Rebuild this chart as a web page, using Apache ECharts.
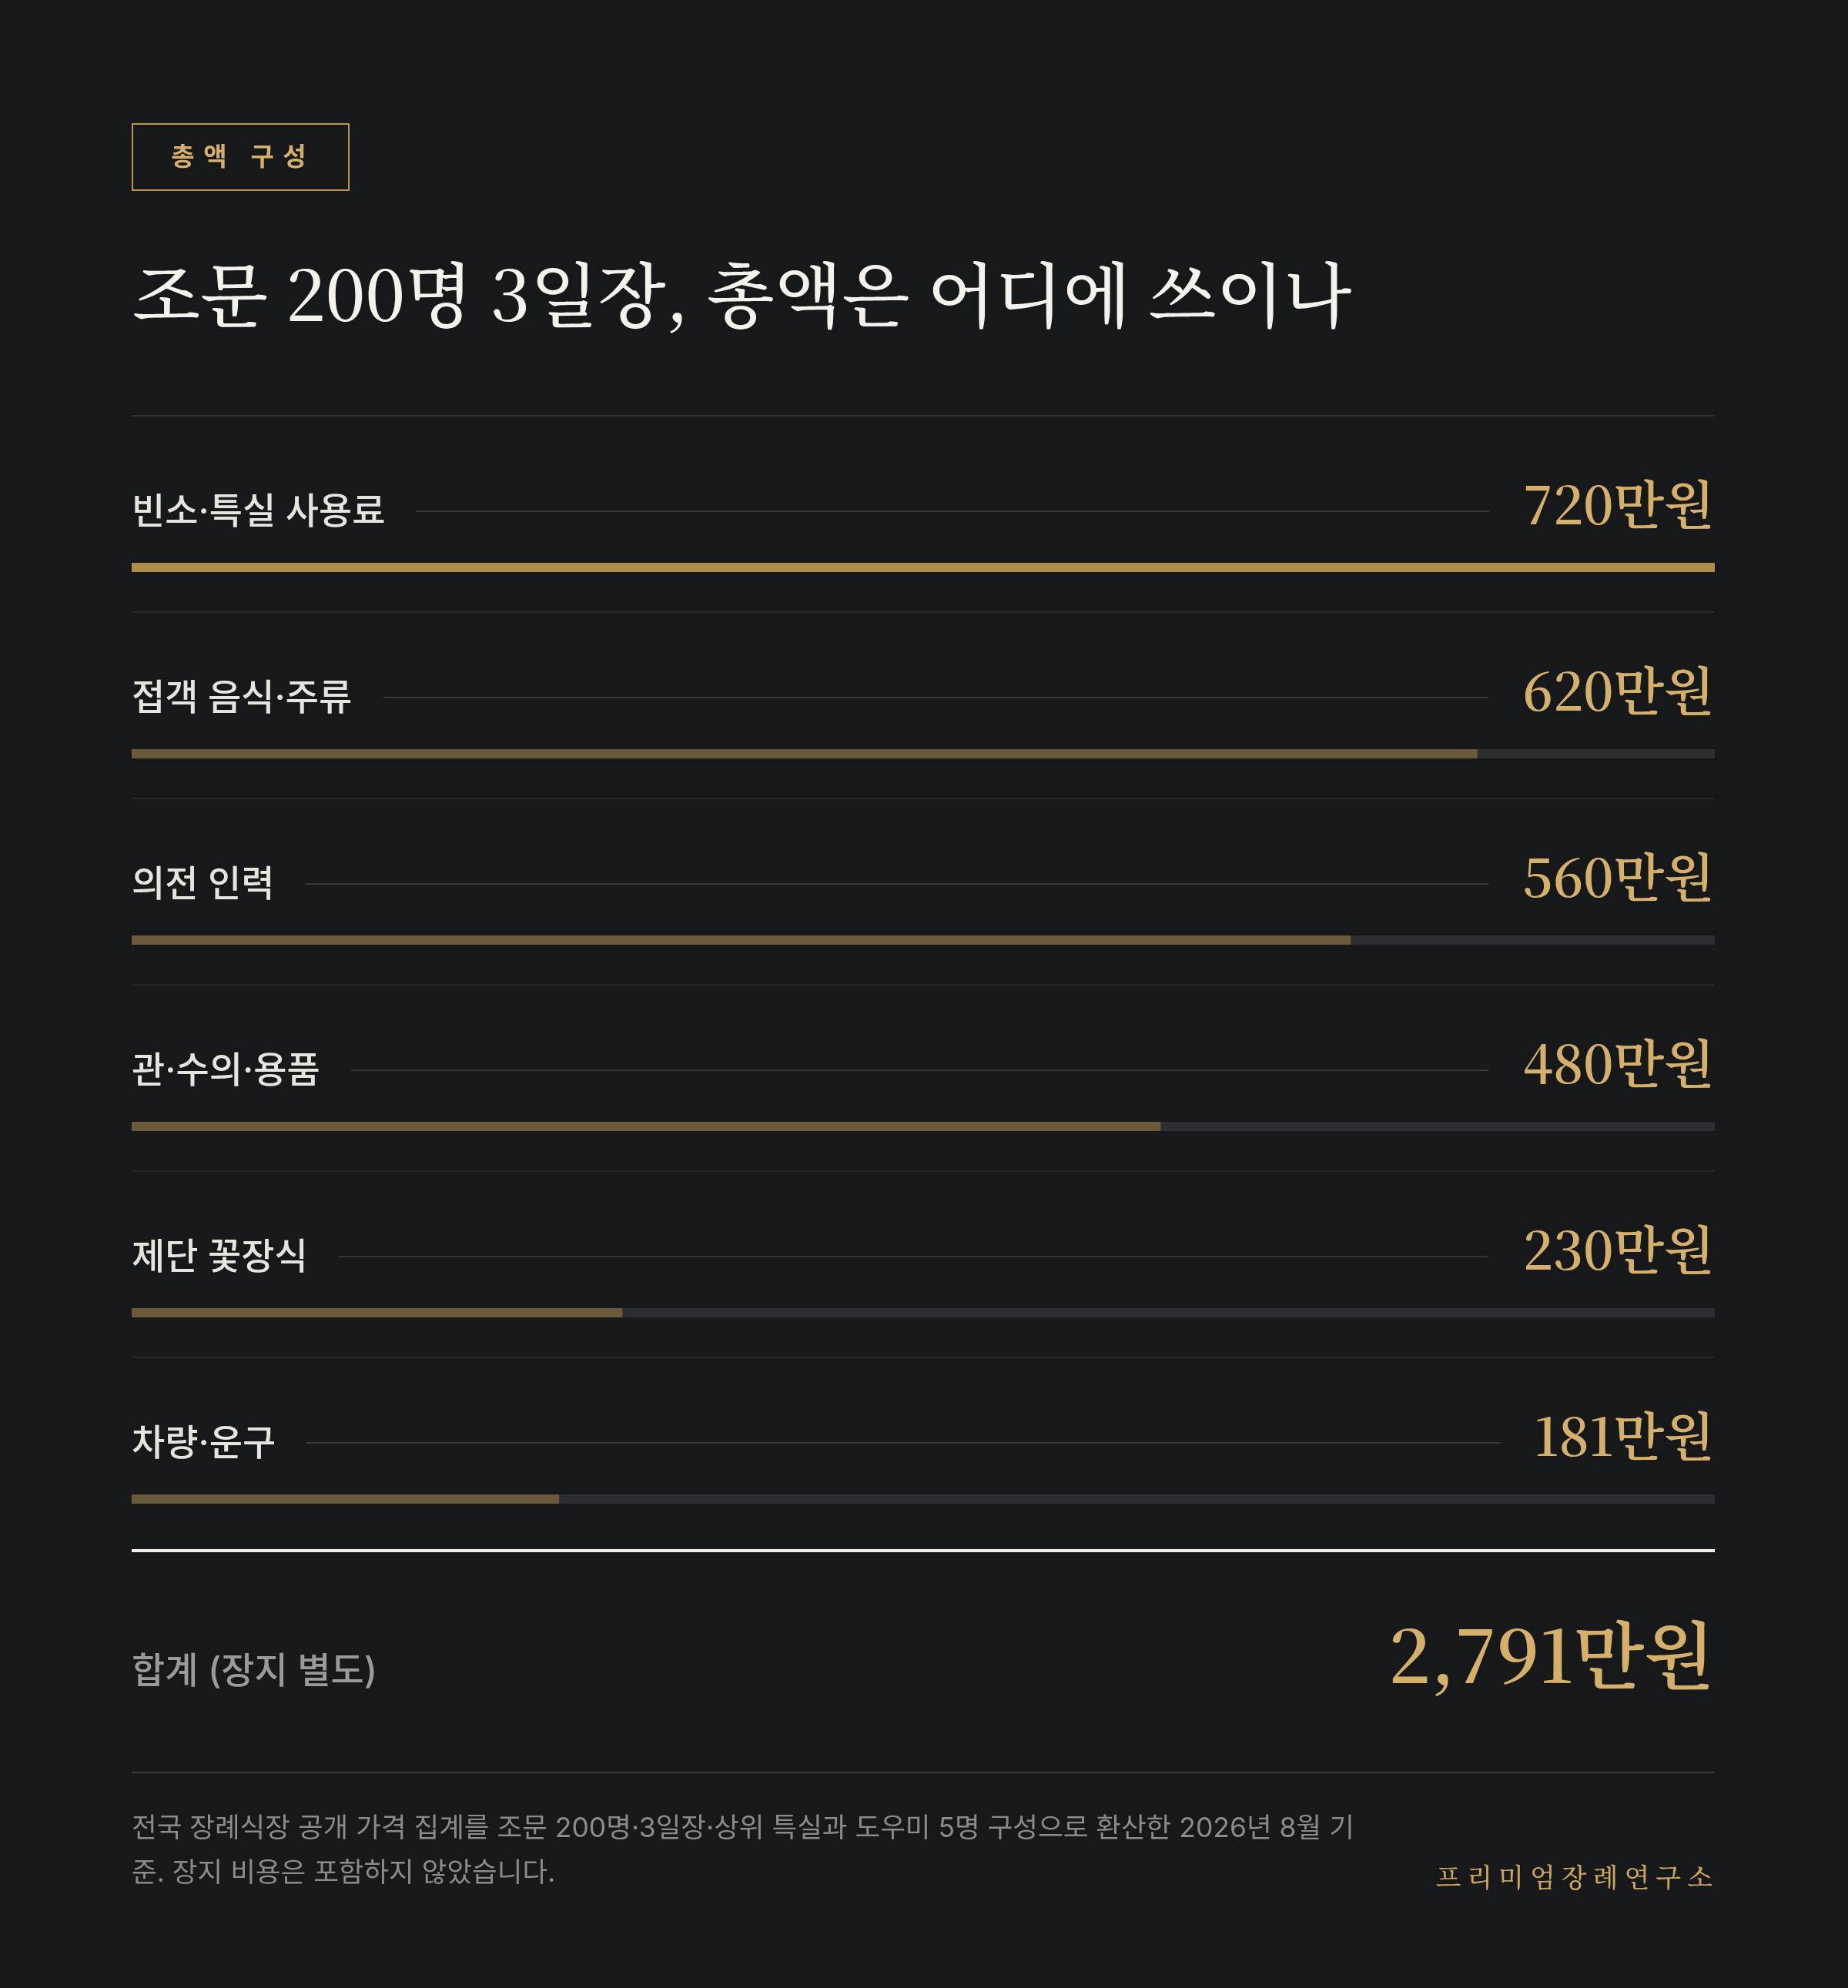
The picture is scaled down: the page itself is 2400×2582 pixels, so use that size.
<!DOCTYPE html>
<html>
<head>
<meta charset="utf-8">
<script src="https://cdn.jsdelivr.net/npm/echarts@6/dist/echarts.min.js"></script>
<style>
html,body{margin:0;padding:0;background:#17181a;}
#c{width:2400px;height:2582px;}
</style>
</head>
<body>
<div id="c"></div>
<script>
// ---- data ----
var categories = ['빈소·특실 사용료', '접객 음식·주류', '의전 인력', '관·수의·용품', '제단 꽃장식', '차량·운구'];
var values = [720, 620, 560, 480, 230, 181];          // 만원
var barShare = [100, 85, 77, 65, 31, 27];            // bar fill, % of track
var unit = '만원';
var tagText = '총액 구성';
var titleText = '조문 200명 3일장, 총액은 어디에 쓰이나';
var totalLabel = '합계 (장지 별도)';
var noteLines = ['전국 장례식장 공개 가격 집계를 조문 200명·3일장·상위 특실과 도우미 5명 구성으로 환산한 2026년 8월 기',
                 '준. 장지 비용은 포함하지 않았습니다.'];
var brand = '프리미엄장례연구소';

var BG = '#17181a';
var GOLD = '#d4b06a';
var SANS = "Inter, 'Noto Sans CJK KR', sans-serif";
var SERIF = "'Noto Serif CJK KR', 'Noto Serif KR', 'Liberation Serif', serif";

var total = values.reduce(function (a, b) { return a + b; }, 0);
var totalText = total.toLocaleString('en-US') + unit;

// spaced text: one graphic text per character, laid out with measured widths
var mctx = document.createElement('canvas').getContext('2d');
function spacedText(str, font, spacing, anchorX, y, align, fill) {
  mctx.font = font;
  var ws = str.split('').map(function (ch) { return mctx.measureText(ch).width; });
  var totalW = ws.reduce(function (a, b) { return a + b; }, 0) + spacing * (ws.length - 1);
  var x = align === 'center' ? anchorX - totalW / 2 : (align === 'right' ? anchorX - totalW : anchorX);
  var out = [];
  str.split('').forEach(function (ch, i) {
    if (ch !== ' ') {
      out.push({type: 'text', x: x, y: y,
        style: {text: ch, fill: fill, font: font, align: 'left', verticalAlign: 'middle'}});
    }
    x += ws[i] + spacing;
  });
  return out;
}

var chart = echarts.init(document.getElementById('c'), null, {renderer: 'canvas'});

var L = 171, R = 2227;

var graphics = [
  {type: 'rect', shape: {x: 172, y: 161, width: 281, height: 86},
    style: {fill: 'none', stroke: '#b8964f', lineWidth: 2}},
  {type: 'text', x: 172, y: 382,
    style: {text: titleText, fill: '#f4f2ed', font: '500 91px ' + SERIF, align: 'left',
      verticalAlign: 'middle'}},
  {type: 'rect', shape: {x: L, y: 539, width: R - L, height: 2}, style: {fill: '#333437'}},
  {type: 'rect', shape: {x: L, y: 2012, width: R - L, height: 4}, style: {fill: '#f2f0eb'}},
  {type: 'text', x: L, y: 2172,
    style: {text: totalLabel, fill: '#9a9a9a', font: '500 47px ' + SANS, align: 'left',
      verticalAlign: 'middle'}},
  {type: 'text', x: R, y: 2150,
    style: {text: totalText, fill: GOLD, font: '600 95px ' + SERIF, align: 'right',
      verticalAlign: 'middle'}},
  {type: 'rect', shape: {x: L, y: 2301, width: R - L, height: 2}, style: {fill: '#38393c'}},
  {type: 'text', x: L, y: 2375,
    style: {text: noteLines[0], fill: '#8a8b8e', font: '400 35.5px ' + SANS, align: 'left',
      verticalAlign: 'middle'}},
  {type: 'text', x: L, y: 2433,
    style: {text: noteLines[1], fill: '#8a8b8e', font: '400 35.5px ' + SANS, align: 'left',
      verticalAlign: 'middle'}}
].concat(
  spacedText(tagText, '700 33px ' + SANS, 11.5, 310, 205, 'center', GOLD),
  spacedText(brand, '500 34px ' + SERIF, 8, 2224, 2438, 'right', '#c9a55e')
);

chart.setOption({
  backgroundColor: BG,
  animation: false,
  grid: {left: L, right: 2400 - R, top: 553, height: 242 * 6},
  xAxis: {type: 'value', min: 0, max: 100, show: false},
  yAxis: {type: 'category', data: categories, inverse: true, show: false},
  series: [{
    type: 'custom',
    encode: {x: 0, y: 1},
    data: barShare.map(function (s, i) { return [s, i]; }),
    renderItem: function (params, api) {
      var idx = api.value(1);
      var c0 = api.coord([0, idx]);
      var bandH = api.size([0, 1])[1];
      var top = c0[1] - bandH / 2;
      var x0 = c0[0];
      var xFull = api.coord([100, idx])[0];
      var xEnd = api.coord([api.value(0), idx])[0];
      var kids = [];
      if (idx > 0) {
        kids.push({type: 'rect', shape: {x: x0, y: top - 1, width: xFull - x0, height: 2},
          style: {fill: '#262729'}});
      }
      kids.push({type: 'rect', shape: {x: x0, y: top + 110, width: xFull - x0, height: 2},
        style: {fill: '#36373a'}});
      kids.push({type: 'text', x: x0, y: top + 113, z2: 10,
        style: {text: categories[idx], fill: '#e6e4df', font: '500 47px ' + SANS,
          align: 'left', verticalAlign: 'middle', backgroundColor: BG, padding: [8, 40, 8, 0]}});
      kids.push({type: 'text', x: xFull, y: top + 102, z2: 10,
        style: {text: values[idx] + unit, fill: GOLD, font: '600 68px ' + SERIF,
          align: 'right', verticalAlign: 'middle', backgroundColor: BG, padding: [4, 0, 4, 44]}});
      kids.push({type: 'rect', shape: {x: x0, y: top + 178, width: xFull - x0, height: 12},
        style: {fill: '#2d2e31'}});
      kids.push({type: 'rect', shape: {x: x0, y: top + 178, width: xEnd - x0, height: 12},
        style: {fill: idx === 0 ? '#b08d4a' : '#6b5a3a'}});
      return {type: 'group', children: kids};
    }
  }],
  graphic: graphics
});
</script>
</body>
</html>
